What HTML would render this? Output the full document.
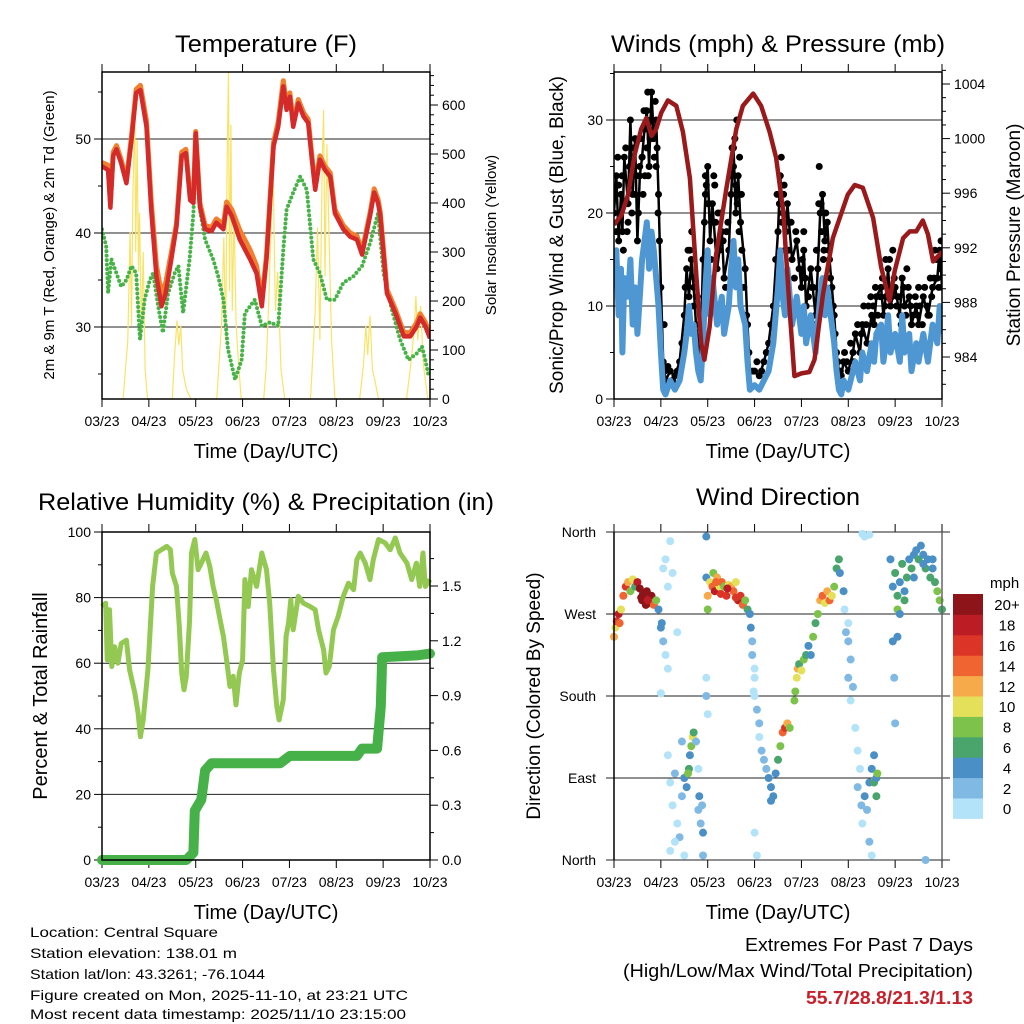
<!DOCTYPE html>
<html><head><meta charset="utf-8"><style>
html,body{margin:0;padding:0;background:#fff;}
svg{display:block;font-family:"Liberation Sans",Arial,sans-serif;}
</style></head><body>
<svg id="fig" width="1024" height="1024" viewBox="0 0 1024 1024" xmlns="http://www.w3.org/2000/svg">
<rect width="1024" height="1024" fill="#fff"/>
<text x="266" y="52" font-size="24" text-anchor="middle" textLength="182" lengthAdjust="spacingAndGlyphs">Temperature (F)</text>
<text x="778" y="52" font-size="24" text-anchor="middle" textLength="334" lengthAdjust="spacingAndGlyphs">Winds (mph) &amp; Pressure (mb)</text>
<text x="266" y="510" font-size="24" text-anchor="middle" textLength="456" lengthAdjust="spacingAndGlyphs">Relative Humidity (%) &amp; Precipitation (in)</text>
<text x="778" y="505" font-size="24" text-anchor="middle" textLength="164" lengthAdjust="spacingAndGlyphs">Wind Direction</text>

<text x="266" y="458" font-size="20" text-anchor="middle">Time (Day/UTC)</text>
<text x="778" y="458" font-size="20" text-anchor="middle">Time (Day/UTC)</text>
<text x="266" y="919" font-size="20" text-anchor="middle">Time (Day/UTC)</text>
<text x="778" y="919" font-size="20" text-anchor="middle">Time (Day/UTC)</text>

<text transform="translate(54,235) rotate(-90)" font-size="15" text-anchor="middle">2m &amp; 9m T (Red, Orange) &amp; 2m Td (Green)</text>
<text transform="translate(496,235) rotate(-90)" font-size="15" text-anchor="middle">Solar Insolation (Yellow)</text>
<text transform="translate(563,235) rotate(-90)" font-size="19" text-anchor="middle">Sonic/Prop Wind &amp; Gust (Blue, Black)</text>
<text transform="translate(1020,235) rotate(-90)" font-size="19" text-anchor="middle">Station Pressure (Maroon)</text>
<text transform="translate(47,696) rotate(-90)" font-size="20" text-anchor="middle">Percent &amp; Total Rainfall</text>
<text transform="translate(540,696) rotate(-90)" font-size="19" text-anchor="middle">Direction (Colored By Speed)</text>

<g font-size="14">
<text x="30" y="937" textLength="188" lengthAdjust="spacingAndGlyphs">Location: Central Square</text>
<text x="30" y="958" textLength="207" lengthAdjust="spacingAndGlyphs">Station elevation: 138.01 m</text>
<text x="30" y="979" textLength="235" lengthAdjust="spacingAndGlyphs">Station lat/lon: 43.3261; -76.1044</text>
<text x="30" y="1000" textLength="378" lengthAdjust="spacingAndGlyphs">Figure created on Mon, 2025-11-10, at 23:21 UTC</text>
<text x="30" y="1019" textLength="376" lengthAdjust="spacingAndGlyphs">Most recent data timestamp: 2025/11/10 23:15:00</text>
</g>
<g font-size="18" text-anchor="end">
<text x="973" y="951" textLength="228" lengthAdjust="spacingAndGlyphs">Extremes For Past 7 Days</text>
<text x="973" y="977" textLength="350" lengthAdjust="spacingAndGlyphs">(High/Low/Max Wind/Total Precipitation)</text>
<text x="973" y="1004" fill="#c8202a" font-weight="bold" textLength="167" lengthAdjust="spacingAndGlyphs">55.7/28.8/21.3/1.13</text>
</g>
</svg>
<script>
// ---------- data ----------
const dayLabels = ["03/23","04/23","05/23","06/23","07/23","08/23","09/23","10/23"];
const tempT = [0,0.13,0.18,0.24,0.31,0.41,0.52,0.63,0.73,0.82,0.95,1.05,1.16,1.27,1.36,1.48,1.59,1.70,1.79,1.88,1.95,2.0,2.09,2.2,2.34,2.44,2.59,2.66,2.77,2.94,3.16,3.30,3.41,3.51,3.66,3.76,3.87,3.94,4.01,4.08,4.19,4.30,4.40,4.48,4.55,4.65,4.76,4.87,4.97,5.15,5.30,5.44,5.55,5.72,5.81,5.89,5.94,6.08,6.26,6.44,6.58,6.72,6.79,6.90,7.0];
const temp2m = [47.1,46.7,42.7,48.2,48.9,47.4,45.3,49.9,54.9,55.2,51.3,42.5,35.4,32.2,33.6,37.2,40.7,48.2,48.5,43.5,43.2,50.6,42.8,40.4,40.2,41.1,40.4,42.8,41.8,39.3,37.2,35.7,32.2,37.2,49.2,51.3,55.6,53.1,54.5,51.3,53.8,52.4,51.7,47.8,44.6,47.8,46.7,46.0,42.1,40.4,39.6,39.3,37.7,41.8,44.3,43.2,41.8,33.6,31.5,29.0,29.0,30.1,31.0,30.1,28.8];
const temp9m = [47.5,47.2,43.3,48.6,49.3,47.8,45.6,50.3,55.3,55.7,51.9,43.4,36.6,33.5,34.7,37.9,41.0,48.6,48.9,43.9,43.6,50.8,43.2,40.8,40.6,41.5,40.9,43.3,42.5,40.3,38.2,36.5,32.8,37.6,49.6,51.8,56.2,53.6,54.9,51.7,54.2,52.8,52.1,48.2,45.0,48.2,47.1,46.4,42.5,40.8,40.0,39.7,38.1,42.1,44.7,43.6,42.2,34.0,31.9,29.4,29.4,30.5,31.4,30.5,29.2];
const dewT = [0,0.09,0.13,0.2,0.31,0.41,0.52,0.63,0.73,0.81,0.91,1.02,1.09,1.2,1.3,1.41,1.55,1.63,1.73,1.87,1.95,2.0,2.09,2.2,2.37,2.48,2.59,2.69,2.84,2.98,3.05,3.16,3.26,3.41,3.59,3.76,3.87,3.94,4.08,4.23,4.37,4.51,4.65,4.80,4.97,5.15,5.37,5.55,5.72,5.89,6.01,6.19,6.36,6.54,6.72,6.83,6.9,6.97];
const dewpoint = [40.4,38.6,33.6,37.2,35.7,34.3,35.0,36.5,35.7,28.7,32.9,35.0,35.7,32.2,29.4,33.6,35.7,36.5,31.5,37.2,42.1,48.5,42.5,39.3,37.2,35.4,32.9,27.6,24.4,26.5,31.5,32.2,32.9,30.1,30.5,30.1,38.2,42.5,44.3,46.0,44.6,37.2,35.7,32.9,32.9,34.7,35.4,36.5,38.9,42.1,35.7,31.8,28.7,26.5,27.2,27.9,26.5,24.8];
const solarT = [0.45,0.55,0.6,0.63,0.66,0.7,0.72,0.75,0.78,0.8,0.84,0.88,0.92,0.97,1.5,1.55,1.6,1.64,1.68,1.72,1.8,1.9,2.45,2.55,2.6,2.64,2.67,2.7,2.72,2.75,2.78,2.82,2.86,2.9,2.97,3.45,3.5,3.56,3.6,3.65,3.7,3.75,3.82,3.9,4.45,4.55,4.6,4.65,4.7,4.73,4.76,4.8,4.85,4.9,4.97,5.5,5.58,5.63,5.67,5.72,5.77,5.82,5.9,6.5,6.6,6.66,6.7,6.74,6.8,6.86,6.95];
const solarV = [0,120,340,150,420,580,300,530,260,380,140,300,60,0,0,90,160,110,150,60,20,0,0,150,330,120,480,670,220,560,180,380,160,90,0,0,60,200,330,480,180,260,60,0,0,180,350,120,480,590,250,520,310,120,0,0,70,150,90,170,60,40,0,0,80,140,210,120,190,70,0];
const windT = [0,0.05,0.1,0.15,0.18,0.22,0.3,0.35,0.4,0.45,0.5,0.55,0.6,0.65,0.7,0.75,0.8,0.85,0.9,0.95,1.0,1.05,1.1,1.2,1.3,1.4,1.5,1.55,1.6,1.65,1.7,1.75,1.8,1.85,1.9,1.95,2.0,2.05,2.1,2.2,2.3,2.35,2.45,2.5,2.55,2.6,2.65,2.7,2.8,2.85,2.9,3.0,3.1,3.2,3.3,3.4,3.5,3.55,3.6,3.65,3.7,3.8,3.9,4.0,4.05,4.1,4.2,4.3,4.35,4.4,4.45,4.5,4.55,4.6,4.65,4.7,4.75,4.8,4.85,4.9,5.0,5.1,5.15,5.25,5.3,5.4,5.5,5.55,5.6,5.7,5.75,5.8,5.85,5.9,6.0,6.1,6.15,6.2,6.3,6.35,6.45,6.5,6.6,6.7,6.8,6.9,6.95,7.0];
const windSpeed = [12,16,9,14,5,13,11,15,8,12,7,11,15,17,19,14,18,16,13,10,5,1,0.5,2,1,2,5,7,10,7,8,5,3,2,6,12,16,9,13,8,11,7,10,14,17,12,15,10,8,4,1,1.5,1,2,3,6,12,16,11,9,14,8,11,7,10,6,9,5,8,11,13,9,12,10,8,6,3,1,0.5,2,1,3,4,2,5,3,6,4,7,8,4,6,9,5,7,4,9,5,7,3,6,4,7,4,8,6,10,7];
const gustSpeed = [20,24,17,22,18,26,21,30,22,28,17,24,26,29,31,25,33,28,30,22,12,4,2,3,2.5,4,9,14,11,15,12,8,6,5,15,22,25,17,21,14,18,13,16,22,27,20,24,19,14,8,3,3,2.5,4,6,10,18,24,20,16,21,15,17,12,16,10,14,9,14,20,22,17,19,15,12,9,5,3,2.5,4,3,5,7,5,8,6,9,8,11,12,9,11,14,10,12,9,13,10,11,8,10,8,11,9,12,13,16,12];
const gustExtraT = [0.1,0.25,0.45,0.6,0.68,0.72,0.78,0.83,0.88,0.92,0.66,0.75,1.07,1.62,1.72,1.95,2.08,2.15,2.22,2.55,2.58,2.6,2.68,2.72,2.62,3.57,3.62,3.68,3.52,4.05,4.25,4.38,4.42,4.48,5.38,5.8,5.95,6.05,6.25,6.5,6.75,6.85,6.98,0.3,0.55,2.0,2.4,4.55,
 0.02,0.05,0.08,0.12,0.17,0.2,0.23,0.28,0.33,0.38,0.42,0.48,0.52,0.57,0.62,0.64,0.7,0.73,0.77,0.81,0.86,0.9,0.94,0.97,1.02,1.08,1.15,1.25,1.35,1.45,1.52,1.58,1.66,1.7,1.78,1.83,1.88,1.93,1.97,2.03,2.07,2.13,2.17,2.25,2.28,2.33,2.38,2.43,2.48,2.52,2.57,2.63,2.67,2.73,2.77,2.83,2.88,2.95,3.05,3.15,3.25,3.35,3.45,3.48,3.53,3.58,3.63,3.67,3.73,3.78,3.85,3.88,3.95,4.02,4.08,4.15,4.22,4.27,4.32,4.37,4.43,4.47,4.52,4.58,4.62,4.68,4.72,4.78,4.83,4.92,4.97,5.05,5.12,5.2,5.28,5.33,5.38,5.43,5.48,5.53,5.58,5.63,5.68,5.73,5.78,5.83,5.88,5.93,5.98,6.03,6.08,6.13,6.18,6.23,6.28,6.33,6.38,6.43,6.48,6.53,6.58,6.63,6.68,6.73,6.78,6.83,6.88,6.93,6.97];
const gustExtraV = [23,27,22,26,31,33,30,28,32,27,24,29,8,16,13,24,19,23,20,25,28,23,26,22,30,26,22,19,15,18,12,25,21,16,4,15,16,11,14,12,13,16,17,19,25,21,18,19,
 22,18,26,20,24,16,21,18,25,20,27,24,20,28,22,31,27,24,28,30,26,25,20,17,8,3,3.5,2,3,6,12,16,18,10,11,5,9,19,23,21,15,24,19,16,20,17,12,19,24,27,24,21,18,16,12,9,5,3,4,3,5,8,15,22,21,19,23,18,16,19,13,18,14,15,13,11,12,8,16,21,18,15,20,16,13,10,7,4,3,5,4,6,4,8,7,10,8,10,11,10,12,9,11,13,10,12,15,11,13,10,11,8,12,9,12,10,9,11,9,10,8,12,10,9,11,13,15,12,14];
const pressT = [0,0.16,0.30,0.44,0.58,0.69,0.80,0.90,1.01,1.15,1.33,1.47,1.62,1.76,1.86,1.93,2.04,2.18,2.40,2.61,2.75,2.97,3.14,3.32,3.46,3.61,3.75,3.85,4.0,4.17,4.28,4.46,4.67,4.89,4.99,5.14,5.31,5.53,5.7,5.88,5.99,6.17,6.31,6.45,6.59,6.70,6.81,7.0];
const pressure = [993.7,994.4,995.9,998.8,1000.7,1001.5,1000.2,1000.7,1001.9,1002.8,1002.4,1000.5,997.1,989.8,985.0,983.8,986.2,991.5,996.4,1000.7,1002.4,1003.3,1002.4,1000.5,998.6,994.7,987.4,982.6,982.8,982.9,983.8,988.6,992.7,994.9,995.9,996.6,996.4,994.2,990.6,988.1,990.3,992.7,993.2,993.2,994.0,993.0,991.0,991.7];
const rhT = [0,0.08,0.11,0.16,0.21,0.27,0.34,0.41,0.52,0.59,0.70,0.77,0.82,0.88,0.98,1.08,1.16,1.27,1.38,1.46,1.50,1.59,1.65,1.70,1.75,1.80,1.87,1.91,1.98,2.05,2.12,2.22,2.30,2.37,2.44,2.52,2.59,2.66,2.73,2.80,2.86,2.93,3.0,3.05,3.12,3.19,3.30,3.41,3.51,3.58,3.66,3.73,3.78,3.87,3.93,3.98,4.03,4.08,4.19,4.30,4.44,4.55,4.62,4.73,4.78,4.85,4.94,5.04,5.15,5.26,5.37,5.44,5.51,5.62,5.72,5.79,5.90,6.04,6.15,6.26,6.36,6.51,6.61,6.71,6.78,6.85,6.90,7.0];
const rhValues = [77.3,78.3,61,76.3,59,65,60,66,67,58,51,44.8,37.6,42.7,58,83.4,93.6,94.6,95.6,94.6,87.5,83.4,71.2,57,51.9,56,73.2,93.6,97.7,88.5,90.5,93.6,89.5,83.4,79.3,73.2,68.2,61,52.9,56,47.3,57,61,85.5,77.3,88.5,83.4,93.6,88.5,78.3,58,46.8,42.7,48.8,68.2,72.2,79.3,70.2,80.4,78.3,77.3,76.3,70.2,64.1,57,59,70.2,74.3,80.4,84.4,82.4,91.6,93.6,90.5,85.5,91.6,97.7,96.7,94.6,98.2,93.6,90.5,85.5,90.5,83.4,93.6,83.4,85.5];
const precipT = [0,1.80,1.95,1.98,2.12,2.2,2.34,3.8,4.01,5.44,5.55,5.87,5.95,5.98,6.72,7.0];
const precipValues = [0,0,0.04,0.27,0.33,0.49,0.53,0.53,0.57,0.57,0.61,0.61,0.84,1.11,1.12,1.13];
const dirT = [0,0.03,0.06,0.1,0.12,0.15,0.2,0.25,0.3,0.35,0.4,0.45,0.5,0.55,0.6,0.65,0.7,0.75,0.8,0.85,0.9,0.95,1.0,1.02,1.05,1.05,1.1,1.15,1.2,1.25,1.35,1.15,1.0,1.1,1.15,1.2,1.25,1.3,1.35,1.4,1.45,1.5,1.3,1.2,1.45,1.5,1.55,1.6,1.62,1.65,1.68,1.7,1.58,1.75,1.8,1.82,1.85,1.9,1.88,1.8,1.9,1.97,1.97,1.97,1.97,2.0,2.0,2.0,2.05,2.1,2.12,2.15,2.2,2.25,2.3,2.35,2.4,2.45,2.5,2.55,2.6,2.65,2.7,2.75,2.8,2.85,2.9,2.92,2.95,3.0,2.95,3.0,3.05,3.1,3.1,3.15,3.2,3.25,3.3,3.35,3.35,3.4,3.45,3.5,3.55,3.6,3.65,3.7,3.75,3.0,3.05,3.0,2.98,3.85,3.87,3.9,3.92,3.95,4.0,4.05,4.1,4.15,4.2,4.25,4.3,4.35,4.4,4.45,4.5,4.55,4.6,4.65,4.7,4.75,4.8,4.82,4.9,4.92,4.95,5.0,5.05,5.0,5.1,5.05,5.15,5.0,5.2,5.25,5.2,5.28,5.3,5.35,5.4,5.45,5.5,5.55,5.6,5.55,5.6,5.62,5.45,5.5,5.3,5.35,5.45,5.9,5.95,6.0,6.05,6.1,6.15,6.2,6.25,6.3,6.35,6.4,6.45,6.5,6.55,6.6,6.65,6.7,6.75,6.8,6.85,6.9,6.95,7.0,6.05,6.1,5.95,5.98,6.0,6.05,6.2,6.4,6.6,6.8,6.65,0.58,0.62,0.68,0.72,2.18,2.28,2.42,2.6];
const dirDeg = [245,255,262,270,260,275,290,300,305,295,308,300,305,298,285,290,295,282,290,280,285,275,255,260,240,320,330,300,350,315,250,210,183,225,115,85,60,95,40,25,70,5,20,10,130,90,80,100,115,125,135,140,95,130,55,70,40,30,60,100,5,355,310,200,180,160,275,290,305,300,315,295,310,300,305,300,290,302,300,295,305,285,290,280,285,275,270,255,240,210,225,180,165,150,135,120,110,100,90,80,65,70,95,110,125,140,145,150,145,30,5,200,185,175,185,200,210,215,208,220,225,235,225,245,260,270,285,290,282,295,285,290,300,320,330,315,295,275,250,240,220,200,190,175,145,260,120,100,80,60,40,70,55,85,100,85,90,115,70,95,20,5,358,355,357,330,300,315,290,305,325,295,310,330,320,335,340,330,345,335,320,330,310,320,305,295,285,275,275,270,240,200,150,245,285,310,325,330,0,288,292,280,285,305,292,298,288];
const dirSpeed = [12,10,16,18,14,11,14,16,12,8,10,7,18,20,20,18,20,16,20,14,8,4,4,4,2,0,0,0,0,0,0,0,0,0,0,0,0,2,0,2,2,0,0,0,2,4,4,6,4,8,10,6,8,2,2,4,2,4,2,0,2,4,4,0,2,0,8,12,10,14,8,18,12,10,14,8,16,10,12,14,10,18,16,14,8,6,4,4,2,0,2,0,2,2,0,2,2,2,4,4,4,4,4,6,8,14,16,12,8,0,0,0,0,8,8,10,12,6,10,8,6,4,4,8,6,8,12,14,10,12,14,10,8,6,6,4,4,0,2,2,2,2,2,0,0,0,0,0,2,2,0,4,2,4,4,6,4,4,6,8,2,0,0,0,0,4,4,6,6,4,6,4,6,4,6,4,4,6,4,4,6,4,6,4,6,8,8,6,8,4,4,2,2,4,6,4,4,4,2,20,20,20,18,14,16,18,16];
const speedColors = ["#b3e3f8","#80bae4","#4a8fc6","#49a56c","#7dc24a","#e5e05a","#f7aa49","#ef6430","#dd3428","#bc1d24","#8d1519"];
const speedLabels = ["0","2","4","6","8","10","12","14","16","18","20+"];
const tempTicks = [30,40,50];
const solarTicks = [0,100,200,300,400,500,600];
const windTicks = [0,10,20,30];
const pressTicks = [984,988,992,996,1000,1004];
const rhTicks = [0,20,40,60,80,100];
const precipTicks = [0.0,0.3,0.6,0.9,1.2,1.5];
const dirTicks = [0,90,180,270,360];
const dirLabels = ["North","East","South","West","North"];

// ---------- helpers ----------
const NS = "http://www.w3.org/2000/svg";
const svg = document.getElementById("fig");
function mk(tag, attrs, parent) {
  const e = document.createElementNS(NS, tag);
  for (const k in attrs) e.setAttribute(k, attrs[k]);
  (parent || svg).appendChild(e);
  return e;
}
function lin(d0, d1, r0, r1) { return v => r0 + (v - d0) * (r1 - r0) / (d1 - d0); }
function pathFrom(xs, ys, fx, fy) {
  return xs.map((t, i) => (i ? "L" : "M") + fx(t).toFixed(1) + "," + fy(ys[i]).toFixed(1)).join("");
}
const L = 102, R = 430, L2 = 614, R2 = 942;
function axisX(x0, x1, top, bottom, g) {
  const sx = lin(0, 7, x0, x1);
  dayLabels.forEach((lab, i) => {
    const x = sx(i);
    const tb = mk("line", {x1: x, x2: x, y1: bottom, y2: bottom + 8, stroke: "#000"}, g);
    
    
    const tt = mk("line", {x1: x, x2: x, y1: top, y2: top - 8, stroke: "#000"}, g);
    
    
    const tx = mk("text", {x: x, y: bottom + 27, "font-size": 14, "text-anchor": "middle"}, g);
    
    
    tx.textContent = lab;
  });
  return sx;
}
function frame(x0, x1, top, bottom, g) {
  const f = mk("rect", {x: x0, y: top, width: x1 - x0, height: bottom - top, fill: "none", stroke: "#000", "stroke-width": 1.5}, g);
  
  
}
function leftAxis(ticks, labels, sy, x0, x1, g, grid, minor, fs) {
  ticks.forEach((v, i) => {
    const y = sy(v);
    if (grid) {
      const gl = mk("line", {x1: x0, x2: x1, y1: y, y2: y, stroke: "#222", "stroke-width": 1}, g);
      
      
    }
    const tk = mk("line", {x1: x0 - 8, x2: x0, y1: y, y2: y, stroke: "#000"}, g);
    
    
    const tl = mk("text", {x: x0 - 11, y: y + 5, "font-size": fs || 14, "text-anchor": "end"}, g);
    
    
    tl.textContent = labels[i];
  });
  (minor || []).forEach(v => {
    const y = sy(v);
    const mt = mk("line", {x1: x0 - 4, x2: x0, y1: y, y2: y, stroke: "#000"}, g);
    
    
  });
}
function rightAxis(ticks, labels, sy, x1, g, minor) {
  ticks.forEach((v, i) => {
    const y = sy(v);
    const tk = mk("line", {x1: x1, x2: x1 + 8, y1: y, y2: y, stroke: "#000"}, g);
    
    
    const tl = mk("text", {x: x1 + 12, y: y + 5, "font-size": 14}, g);
    
    
    tl.textContent = labels[i];
  });
  (minor || []).forEach(v => {
    const y = sy(v);
    const mt = mk("line", {x1: x1, x2: x1 + 4, y1: y, y2: y, stroke: "#000"}, g);
    
    
  });
}
function clip(id, x0, x1, top, bottom) {
  const cp = mk("clipPath", {id: id});
  mk("rect", {x: x0, y: top, width: x1 - x0, height: bottom - top}, cp);
}

// ---------- Panel 1: temperature ----------
(function () {
  const g = mk("g", {});
  
  
  const top = 72, bot = 399;
  clip("c1", L, R, top, bot);
  const sx = axisX(L, R, top, bot, g);
  const sy = lin(30, 50, 327, 139);
  const ss = lin(0, 600, 399, 105);
  leftAxis(tempTicks, tempTicks.map(String), sy, L, R, g, true, [25, 35, 45, 55]);
  const mn = []; for (let v = 20; v <= 660; v += 20) if (v % 100) mn.push(v);
  rightAxis(solarTicks, solarTicks.map(String), ss, R, g, mn);
  const pg = mk("g", {"clip-path": "url(#c1)"}, g);
  const sol = mk("path", {d: pathFrom(solarT, solarV, sx, ss), fill: "none", stroke: "#f9e366", "stroke-width": 1.2}, pg);
  
  
  const dp = mk("path", {d: pathFrom(dewT, dewpoint, sx, sy), fill: "none", stroke: "#47b347", "stroke-width": 4, "stroke-linecap": "round", "stroke-dasharray": "0 4.5", "stroke-linejoin": "round"}, pg);
  
  
  const t9 = mk("path", {d: pathFrom(tempT, temp9m, sx, sy), fill: "none", stroke: "#f07f2e", "stroke-width": 5, "stroke-linejoin": "round"}, pg);
  
  
  const t2 = mk("path", {d: pathFrom(tempT, temp2m, sx, sy), fill: "none", stroke: "#d42a2a", "stroke-width": 4.5, "stroke-linejoin": "round"}, pg);
  
  
  frame(L, R, top, bot, g);
})();

// ---------- Panel 2: wind & pressure ----------
(function () {
  const g = mk("g", {});
  
  
  const top = 72, bot = 399;
  clip("c2", L2, R2, top, bot);
  const sx = axisX(L2, R2, top, bot, g);
  const sy = lin(0, 30, 399, 120);
  const sp = lin(984, 1004, 357, 84);
  leftAxis(windTicks, windTicks.map(String), sy, L2, R2, g, true, [5, 15, 25, 35]);
  const mn = []; for (let v = 982; v <= 1005; v++) if (v % 4) mn.push(v);
  rightAxis(pressTicks, pressTicks.map(String), sp, R2, g, mn);
  const pg = mk("g", {"clip-path": "url(#c2)"}, g);
  const gl = mk("path", {d: pathFrom(windT, gustSpeed, sx, sy), fill: "none", stroke: "#000", "stroke-width": 2.5, "stroke-linejoin": "round"}, pg);
  
  
  windT.forEach((t, i) => {
    const c = mk("circle", {cx: sx(t), cy: sy(gustSpeed[i]), r: 3.5, fill: "#000"}, pg);
    
    
  });
  gustExtraT.forEach((t, i) => {
    const c = mk("circle", {cx: sx(t), cy: sy(gustExtraV[i]), r: 3.5, fill: "#000"}, pg);
    
    
  });
  const wl = mk("path", {d: pathFrom(windT, windSpeed, sx, sy), fill: "none", stroke: "#4f97d3", "stroke-width": 6, "stroke-linejoin": "round"}, pg);
  
  
  const pl = mk("path", {d: pathFrom(pressT, pressure, sx, sp), fill: "none", stroke: "#9a1a1c", "stroke-width": 4.5, "stroke-linejoin": "round"}, pg);
  
  
  frame(L2, R2, top, bot, g);
})();

// ---------- Panel 3: humidity & precip ----------
(function () {
  const g = mk("g", {});
  
  
  const top = 532, bot = 860;
  const sx = axisX(L, R, top, bot, g);
  const sy = lin(0, 100, 860, 532);
  const sp = lin(0, 1.5, 860, 586);
  leftAxis(rhTicks, rhTicks.map(String), sy, L, R, g, true, [10, 30, 50, 70, 90]);
  const mn = []; for (let v = 0.15; v < 1.8; v += 0.3) mn.push(v);
  rightAxis(precipTicks, precipTicks.map(v => v.toFixed(1)), sp, R, g, mn);
  const rl = mk("path", {d: pathFrom(rhT, rhValues, sx, sy), fill: "none", stroke: "#93c952", "stroke-width": 5, "stroke-linejoin": "round"}, g);
  
  
  const pl = mk("path", {d: pathFrom(precipT, precipValues, sx, sp), fill: "none", stroke: "#46b148", "stroke-width": 10, "stroke-linejoin": "round", "stroke-linecap": "round"}, g);
  
  
  frame(L, R, top, bot, g);
})();

// ---------- Panel 4: wind direction ----------
(function () {
  const g = mk("g", {});
  
  
  const top = 532, bot = 860;
  const sx = axisX(L2, R2, top, bot, g);
  const sy = lin(0, 360, 860, 532);
  dirTicks.forEach((v, i) => {
    const y = sy(v);
    const gl = mk("line", {x1: L2 - 8, x2: 950, y1: y, y2: y, stroke: "#222"}, g);
    
    
    const tl = mk("text", {x: 596, y: y + 5, "font-size": 14, "text-anchor": "end"}, g);
    
    
    tl.textContent = dirLabels[i];
  });
  dirT.forEach((t, i) => {
    const idx = Math.min(10, Math.floor(dirSpeed[i] / 2));
    const c = mk("circle", {cx: sx(t), cy: sy(dirDeg[i]), r: 4, fill: speedColors[idx]}, g);
    
    
  });
  const ln = mk("line", {x1: L2, x2: L2, y1: top, y2: bot, stroke: "#000", "stroke-width": 1.5}, g);
  
  
  const rn = mk("line", {x1: R2, x2: R2, y1: top, y2: bot, stroke: "#666", "stroke-width": 1.5}, g);
  
  
  const cb = mk("g", {}, g);
  
  
  const h = 20.4, y0 = 594;
  speedColors.forEach((c, i) => {
    const y = y0 + (10 - i) * h;
    const r = mk("rect", {x: 953, y: y, width: 30, height: h + 0.5, fill: c}, cb);
    
    
    const t = mk("text", {x: 1007, y: y + h / 2 + 6, "font-size": 15, "text-anchor": "middle"}, cb);
    
    
    t.textContent = speedLabels[i];
  });
  const u = mk("text", {x: 990, y: 588, "font-size": 15}, cb);
  
  
  u.textContent = "mph";
})();
</script>
</body></html>
